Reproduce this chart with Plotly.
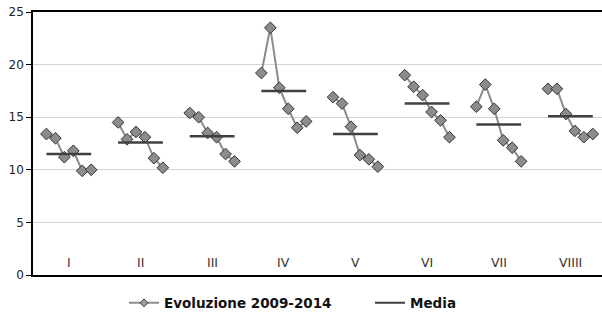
import plotly.graph_objects as go

categories = ["I", "II", "III", "IV", "V", "VI", "VII", "VIIII"]
years = [2009, 2010, 2011, 2012, 2013, 2014]
values = {
    "I":     [13.4, 13.0, 11.2, 11.8, 9.9, 10.0],
    "II":    [14.5, 12.9, 13.6, 13.1, 11.1, 10.2],
    "III":   [15.4, 15.0, 13.5, 13.1, 11.5, 10.8],
    "IV":    [19.2, 23.5, 17.8, 15.8, 14.0, 14.6],
    "V":     [16.9, 16.3, 14.1, 11.4, 11.0, 10.3],
    "VI":    [19.0, 17.9, 17.1, 15.5, 14.7, 13.1],
    "VII":   [16.0, 18.1, 15.8, 12.8, 12.1, 10.8],
    "VIIII": [17.7, 17.7, 15.3, 13.7, 13.1, 13.4],
}
means = [11.5, 12.6, 13.2, 17.5, 13.4, 16.3, 14.3, 15.1]
y_ticks = [0, 5, 10, 15, 20, 25]

slots_per_group = len(years) + 2

xs, ys, mx, my = [], [], [], []
label_x = []
for g, cat in enumerate(categories):
    start = g * slots_per_group + 1
    px = [start + i for i in range(len(years))]
    xs += px + [None]
    ys += values[cat] + [None]
    mx += px + [None]
    my += [means[g]] * len(years) + [None]
    label_x.append(start + (len(years) - 1) / 2)

FONT = "DejaVu Sans, Liberation Sans, Arial, sans-serif"
SERIES_LINE = dict(color="#8c8c8c", width=2)
fig = go.Figure()
fig.add_trace(go.Scatter(
    x=xs, y=ys, mode="lines+markers", name="Evoluzione 2009-2014",
    line=SERIES_LINE, showlegend=False,
    marker=dict(symbol="diamond", size=9, color="#8c8c8c",
                line=dict(color="#333333", width=1)),
    connectgaps=False,
))
fig.add_trace(go.Scatter(
    x=mx, y=my, mode="lines", name="Media", showlegend=False,
    line=dict(color="#404040", width=2.5),
    connectgaps=False,
))
# legend entries
fig.add_trace(go.Scatter(
    x=[None], y=[None], mode="lines+markers", name="Evoluzione 2009-2014",
    line=SERIES_LINE, legend="legend",
    marker=dict(symbol="diamond", size=6, color="#a0a0a0",
                line=dict(color="#333333", width=1)),
))
fig.add_trace(go.Scatter(
    x=[None], y=[None], mode="lines", name="Media", legend="legend2",
    line=dict(color="#404040", width=2),
))

for cat, lx in zip(categories, label_x):
    fig.add_annotation(x=lx, y=1.2, text=cat, showarrow=False,
                       font=dict(size=12.5, color="#333333", family=FONT),
                       xanchor="center", yanchor="middle")

LEG_FONT = dict(size=13.5, color="#111111", family=FONT, weight="bold")
fig.update_layout(
    width=602, height=315,
    margin=dict(l=33, r=0, t=12, b=40, autoexpand=False),
    paper_bgcolor="white", plot_bgcolor="white",
    font=dict(family=FONT, size=12, color="#222222"),
    showlegend=True,
    legend=dict(orientation="h", x=124 / 602, xanchor="left", xref="container",
                y=0.038, yanchor="middle", yref="container",
                font=LEG_FONT, itemwidth=30, bgcolor="rgba(0,0,0,0)"),
    legend2=dict(orientation="h", x=370 / 602, xanchor="left", xref="container",
                 y=0.038, yanchor="middle", yref="container",
                 font=LEG_FONT, itemwidth=30, bgcolor="rgba(0,0,0,0)"),
    xaxis=dict(range=[-0.5, 63.03], showticklabels=False, showgrid=False,
               zeroline=False, showline=True, linecolor="#000000", linewidth=1.5,
               mirror=True, ticks="", automargin=False),
    yaxis=dict(range=[0, 25], tickvals=y_ticks, showgrid=True, gridcolor="#d4d4d4",
               gridwidth=1, zeroline=False, showline=True, linecolor="#000000",
               linewidth=1.5, ticks="outside", ticklen=5, tickcolor="#000000",
               tickfont=dict(size=12, color="#222222", family=FONT), automargin=False),
)
fig.write_html("out.html", config={"displayModeBar": False},
               post_script="document.body.style.margin='0';document.body.style.overflow='hidden';")
